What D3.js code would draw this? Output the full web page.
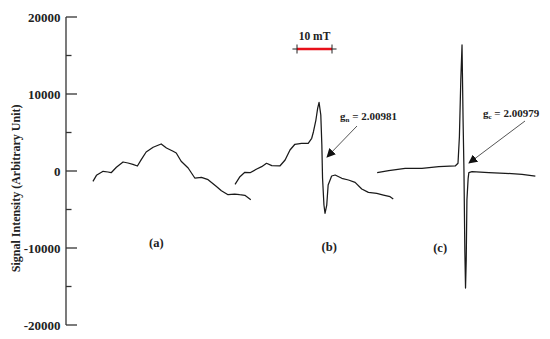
<html>
<head>
    <script src="https://d3js.org/d3.v7.min.js" charset="utf-8"></script>
</head>

<body style="margin:0;background:#fff">
    <script type="text/javascript">
        // Field position (mT, relative) and signal intensity for each EPR spectrum
        var fieldA = [7.7, 8.7, 10.6, 12.0, 12.9, 14.4, 16.3, 17.7, 19.1, 20.4, 21.5, 22.9, 24.9, 26.3, 27.2, 28.7, 30.6, 31.5, 32.9, 34.9, 36.8, 38.7, 40.6, 42.9, 44.4, 46.3, 48.2, 49.6, 51.1, 52.8];
        var intensityA = [-1340, -560, -40, -130, -220, 480, 1170, 1040, 870, 650, 1470, 2470, 3080, 3340, 3510, 2990, 2560, 2340, 1260, 390, -910, -820, -1130, -1990, -2560, -3080, -2990, -3080, -3160, -3730];

        var fieldB = [48.3, 49.7, 51.1, 52.6, 54.5, 55.9, 57.3, 58.8, 61.1, 62.6, 64.0, 65.4, 67.3, 69.2, 70.2, 70.7, 71.4, 71.9, 72.3, 72.8, 73.1, 73.3, 73.7, 74.0, 74.5, 74.9, 75.9, 76.9, 78.8, 80.7, 82.6, 84.5, 86.4, 88.8, 90.7, 92.6, 93.5];
        var intensityB = [-1730, -740, -170, -220, 260, 560, 1000, 690, 650, 1430, 2730, 3470, 3600, 3600, 4250, 5100, 6620, 8140, 8920, 7270, 3380, -950, -4420, -5490, -4420, -1820, -650, -520, -950, -1170, -1470, -2340, -2770, -2900, -3120, -3340, -3640];

        var fieldC = [88.9, 92.2, 96.9, 101.7, 106.5, 111.2, 112.0, 112.4, 112.8, 113.15, 113.45, 113.7, 113.95, 114.15, 114.35, 114.55, 114.9, 115.1, 116.0, 120.8, 125.5, 130.3, 134.1];
        var intensityC = [-220, 40, 350, 350, 560, 650, 1000, 4460, 11820, 16370, 6620, 130, -10260, -15200, -11560, -3770, -950, -220, -90, -220, -300, -430, -650];

        var yTicks = [-20000, -10000, 0, 10000, 20000];
        var yMinorTicks = [-15000, -5000, 5000, 15000];
        var spectrumLabels = ["(a)", "(b)", "(c)"];
        var labelField = [25.8, 75.2, 106.9];

        var width = 550;
        var height = 339;
        var font = "Liberation Serif, Times New Roman, Times, serif";

        var svg = d3.select("body").append("svg")
            .attr("width", width)
            .attr("height", height);

        var x = d3.scaleLinear().domain([0, 137]).range([66, 545.5]);
        var y = d3.scaleLinear().domain([-20000, 20000]).range([325, 17]);

        function label(sel, size) {
            return sel.attr("font-family", font)
                .attr("font-weight", "bold")
                .attr("font-size", size)
                .attr("fill", "#222");
        }

        // Y axis: line with major + minor ticks pointing right
        var axis = svg.append("g").attr("stroke", "#333").attr("stroke-width", 1.3);
        axis.append("line")
            .attr("x1", 66).attr("x2", 66)
            .attr("y1", y(20000)).attr("y2", y(-20000));
        axis.selectAll(".major").data(yTicks).join("line")
            .attr("x1", 66).attr("x2", 77)
            .attr("y1", d => y(d)).attr("y2", d => y(d));
        axis.selectAll(".minor").data(yMinorTicks).join("line")
            .attr("x1", 66).attr("x2", 71.5)
            .attr("y1", d => y(d)).attr("y2", d => y(d));

        svg.selectAll(".tick-label").data(yTicks).join("text")
            .call(label, 13)
            .attr("x", 60.5)
            .attr("y", d => y(d))
            .attr("dy", "0.35em")
            .attr("text-anchor", "end")
            .text(d => d);

        svg.append("text")
            .call(label, 12)
            .attr("transform", "translate(19.5," + y(-2250) + ") rotate(-90)")
            .attr("text-anchor", "middle")
            .text("Signal Intensity (Arbitrary Unit)");

        // Spectra
        var line = d3.line().x(d => x(d[0])).y(d => y(d[1]));
        [[fieldA, intensityA], [fieldB, intensityB], [fieldC, intensityC]].forEach(function(s) {
            svg.append("path")
                .datum(d3.zip(s[0], s[1]))
                .attr("d", line)
                .attr("fill", "none")
                .attr("stroke", "#1a1a1a")
                .attr("stroke-width", 1.25)
                .attr("stroke-linejoin", "round");
        });

        svg.selectAll(".spec-label").data(spectrumLabels).join("text")
            .call(label, 12.5)
            .attr("x", (d, i) => x(labelField[i]))
            .attr("y", (d, i) => [247, 251, 252][i])
            .attr("text-anchor", "middle")
            .text(d => d);

        // 10 mT scale bar
        var bar = svg.append("g");
        bar.append("line").attr("x1", x(64.7)).attr("x2", x(77.3)).attr("y1", 49).attr("y2", 49)
            .attr("stroke", "#222").attr("stroke-width", 1);
        bar.append("line").attr("x1", x(66)).attr("x2", x(76)).attr("y1", 49).attr("y2", 49)
            .attr("stroke", "#e8101a").attr("stroke-width", 2.5);
        bar.selectAll(".end").data([66, 76]).join("line")
            .attr("x1", d => x(d)).attr("x2", d => x(d)).attr("y1", 44.5).attr("y2", 53.5)
            .attr("stroke", "#222").attr("stroke-width", 1);
        bar.append("text")
            .call(label, 11.5)
            .attr("x", x(71)).attr("y", 39.5)
            .attr("text-anchor", "middle")
            .text("10 mT");

        // g-value annotations with arrows
        svg.append("defs").append("marker")
            .attr("id", "head")
            .attr("viewBox", "0 0 10 10")
            .attr("refX", 9).attr("refY", 5)
            .attr("markerWidth", 9).attr("markerHeight", 9)
            .attr("markerUnits", "userSpaceOnUse")
            .attr("orient", "auto")
            .append("path").attr("d", "M0,0L10,5L0,10z").attr("fill", "#111");

        var notes = [
            { sub: "n", value: "2.00981", tx: 340, ty: 120, from: [357, 126], to: [327, 157] },
            { sub: "c", value: "2.00979", tx: 483, ty: 117, from: [525, 121], to: [469, 163] }
        ];
        notes.forEach(function(n) {
            svg.append("line")
                .attr("x1", n.from[0]).attr("y1", n.from[1])
                .attr("x2", n.to[0]).attr("y2", n.to[1])
                .attr("stroke", "#555").attr("stroke-width", 1)
                .attr("marker-end", "url(#head)");
            var t = svg.append("text")
                .call(label, 11)
                .attr("x", n.tx).attr("y", n.ty);
            t.append("tspan").text("g");
            t.append("tspan").attr("font-size", 7).attr("dy", 2).text(n.sub);
            t.append("tspan").attr("dy", -2).text(" = " + n.value);
        });
    </script>
</body>

</html>
